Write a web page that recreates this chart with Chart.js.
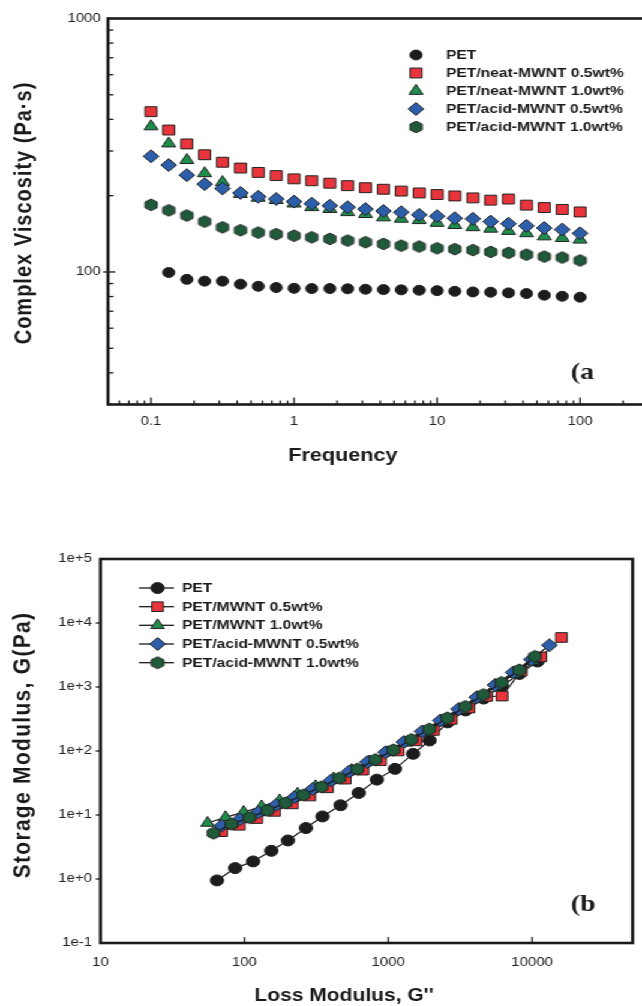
<!DOCTYPE html>
<html><head><meta charset="utf-8">
<script src="https://cdn.jsdelivr.net/npm/chart.js@4.4.1/dist/chart.umd.min.js"></script>
<style>
html,body{margin:0;padding:0;background:#fff;overflow:hidden;width:642px;height:1006px;}
#stage{position:absolute;left:0;top:0;width:535px;height:1006px;transform:scaleX(1.2);transform-origin:0 0;}
#c1{position:absolute;left:0;top:0;}
#c2{position:absolute;left:0;top:480px;}
</style></head><body>
<div id="stage"><canvas id="c1" width="600" height="480"></canvas><canvas id="c2" width="535" height="526"></canvas></div>
<script>
// ---------- Panel (a): complex viscosity vs frequency ----------
const frequency = [0.1, 0.133, 0.178, 0.237, 0.316, 0.422, 0.562, 0.75, 1, 1.33, 1.78, 2.37, 3.16, 4.22, 5.62, 7.5, 10, 13.3, 17.8, 23.7, 31.6, 42.2, 56.2, 75, 100];
const viscPET    = [null, 99.5, 93.5, 92, 92, 89.5, 87.8, 86.8, 86.2, 86, 86, 85.8, 85.5, 85.2, 85, 84.7, 84.4, 83.9, 83.4, 83.2, 82.7, 82.2, 81, 80.2, 79.5];
const viscNeat05 = [429, 363, 320, 290, 271, 257, 247, 240, 233, 229, 224, 219, 215, 212, 208.5, 205, 202, 199.5, 196, 192, 194, 183.5, 179.5, 176.5, 172.5];
const viscNeat10 = [375, 321, 276, 245, 226, 203, 196, 192, 186, 180, 177, 172, 169, 164, 162, 160, 156, 153, 150, 148, 145, 142, 138, 136, 134];
const viscAcid05 = [286, 264, 241, 222, 213.5, 205, 198, 194, 189.5, 186, 182.5, 180, 177, 174, 172, 168, 166, 163, 162, 158, 155, 152, 149, 147, 142];
const viscAcid10 = [184, 175, 167, 158, 150, 146, 143, 141, 139, 137, 135, 133, 131, 129, 127, 126, 124, 123, 122, 120, 119, 117, 115, 114, 111];
const namesA = ['PET', 'PET/neat-MWNT 0.5wt%', 'PET/neat-MWNT 1.0wt%', 'PET/acid-MWNT 0.5wt%', 'PET/acid-MWNT 1.0wt%'];
const freqTickLabels = [0.1, 1, 10, 100];
const viscTickLabels = [100, 1000];

// ---------- Panel (b): storage modulus vs loss modulus ----------
const lossPET    = [64.5, 86.3, 115, 154, 201, 268, 349, 466, 624, 834, 1114, 1490, 1938, 2590, 3450, 4600, 6130, 8180, 10900];
const storPET    = [0.95, 1.48, 1.88, 2.76, 4.0, 6.26, 9.5, 14.2, 22.1, 35.7, 52.6, 90.4, 146, 280, 430, 660, 1030, 1600, 2500];
const lossNeat05 = [69.5, 92, 122, 162, 215, 285, 378, 502, 666, 884, 1173, 1557, 2066, 2742, 3640, 4830, 6190, 8400, 11500, 16000];
const storNeat05 = [5.5, 6.9, 8.8, 11.4, 14.9, 19.8, 26.6, 36.3, 50.2, 70.4, 100, 144, 210, 312, 468, 712, 721, 1780, 2950, 5940];
const lossNeat10 = [55.5, 74, 98.8, 131.8, 175.8, 234.5, 312.8, 417.3, 556.7, 742.6, 990.6, 1321, 1763, 2352, 3137, 4185, 5583, 7448, 9935];
const storNeat10 = [7.5, 9.2, 11.1, 13.6, 16.9, 21.4, 28.0, 37.2, 50.2, 68.6, 95, 134, 195, 289, 433, 660, 1020, 1597, 2537];
const lossAcid05 = [69.5, 93, 124.5, 166.7, 223, 298.7, 400, 535, 716, 959, 1284, 1718, 2300, 3080, 4122, 5518, 7387, 9889, 13200];
const storAcid05 = [6.8, 8.6, 11.0, 14.4, 19.0, 25.5, 34.7, 48, 67.2, 95.6, 138, 202, 300, 452, 691, 1072, 1690, 2693, 4500];
const lossAcid10 = [61, 81.4, 108.5, 144.8, 193, 257.5, 343.5, 458, 611, 815, 1087, 1450, 1934, 2580, 3441, 4590, 6122, 8166, 10470];
const storAcid10 = [5.2, 7.2, 9.1, 11.8, 15.4, 20.5, 27.5, 37.7, 52.1, 73.3, 104, 151, 220, 329, 496, 759, 1175, 1845, 3000];
const namesB = ['PET', 'PET/MWNT 0.5wt%', 'PET/MWNT 1.0wt%', 'PET/acid-MWNT 0.5wt%', 'PET/acid-MWNT 1.0wt%'];
const lossTickLabels = [10, 100, 1000, 10000];
const storTickLabels = [0.1, 1, 10, 100, 1000, 10000, 100000];

// ---------- styling ----------
const C_BLACK = '#1c1c1c', C_RED = '#e8343a', C_GREEN = '#1e8c4b', C_BLUE = '#2d5ea9', C_DKGREEN = '#1f5a3b', C_EDGE = '#222222';
const SANS = '"Liberation Sans", Arial, Helvetica, sans-serif';
const SERIF = '"Liberation Serif", "Times New Roman", serif';

function hexCanvas(r, fill, stroke) {
  const s = Math.ceil(2 * r + 4);
  const c = document.createElement('canvas');
  c.width = s; c.height = s;
  const g = c.getContext('2d');
  g.beginPath();
  for (let i = 0; i < 6; i++) {
    const a = -Math.PI / 2 + i * Math.PI / 3;
    const px = s / 2 + r * Math.cos(a), py = s / 2 + r * Math.sin(a);
    if (i === 0) g.moveTo(px, py); else g.lineTo(px, py);
  }
  g.closePath();
  g.fillStyle = fill; g.fill();
  g.lineWidth = 1; g.strokeStyle = stroke; g.stroke();
  return c;
}

function drawMarker(ctx, style, x, y, r, fill, stroke) {
  if (style instanceof HTMLCanvasElement) { ctx.drawImage(style, x - style.width / 2, y - style.height / 2); return; }
  ctx.beginPath();
  if (style === 'circle') ctx.arc(x, y, r, 0, Math.PI * 2);
  else if (style === 'rect') { const s = Math.SQRT1_2 * r; ctx.rect(x - s, y - s, 2 * s, 2 * s); }
  else if (style === 'triangle') {
    ctx.moveTo(x, y - r);
    ctx.lineTo(x + r * Math.sin(2 * Math.PI / 3), y - r * Math.cos(2 * Math.PI / 3));
    ctx.lineTo(x + r * Math.sin(4 * Math.PI / 3), y - r * Math.cos(4 * Math.PI / 3));
    ctx.closePath();
  } else if (style === 'rectRot') { ctx.moveTo(x - r, y); ctx.lineTo(x, y - r); ctx.lineTo(x + r, y); ctx.lineTo(x, y + r); ctx.closePath(); }
  ctx.fillStyle = fill; ctx.fill();
  ctx.lineWidth = 1; ctx.strokeStyle = stroke; ctx.stroke();
}

const stylesA = [
  { style: 'circle', r: 5, fill: C_BLACK },
  { style: 'rect', r: 7, fill: C_RED },
  { style: 'triangle', r: 6.7, fill: C_GREEN },
  { style: 'rectRot', r: 6.5, fill: C_BLUE },
  { style: hexCanvas(5.8, C_DKGREEN, C_EDGE), r: 5.8, fill: C_DKGREEN }
];
const stylesB = [
  { style: 'circle', r: 5.5, fill: C_BLACK },
  { style: 'rect', r: 6.8, fill: C_RED },
  { style: 'triangle', r: 6.5, fill: C_GREEN },
  { style: 'rectRot', r: 6.5, fill: C_BLUE },
  { style: hexCanvas(6, C_DKGREEN, C_EDGE), r: 6, fill: C_DKGREEN }
];

function minorTicks(lo, hi) {
  const out = [];
  for (let k = -3; k <= 6; k++) for (let m = 2; m <= 9; m++) {
    const v = m * Math.pow(10, k);
    if (v > lo * 1.0001 && v < hi * 0.9999) out.push(v);
  }
  return out;
}
function fmtExp(v) {
  const e = Math.round(Math.log10(v));
  return '1e' + (e < 0 ? '-' : '+') + Math.abs(e);
}

const decor = {
  c1: {
    xMajor: freqTickLabels, xMajorLen: 7, xMinor: minorTicks(0.05, 500), xMinorLen: 4,
    yMajor: [100], yMajorIn: 6, yMajorOut: 4, yMinor: minorTicks(30, 1000), yMinorLen: 4.5,
    xTitle: { text: 'Frequency', x: 285.8, y: 461, font: 'bold 18px ' + SANS },
    yTitle: { text: 'Complex Viscosity (Pa·s)', x: 20.4, y: 213, font: 'bold 20px ' + SANS, spacing: '1px' },
    panel: { text: '(a', x: 475.8, y: 379, font: 'bold 23px ' + SERIF },
    legend: { mx: 346.7, tx: 371.7, rows: [55, 73, 91, 109, 127], line: null, names: namesA, styles: stylesA }
  },
  c2: {
    xMajor: [100, 1000, 10000], xMajorLen: 6, xMinor: [], xMinorLen: 0,
    yMajor: [1, 10, 100, 1000, 10000], yMajorIn: 0, yMajorOut: 4, yMinor: [], yMinorLen: 0,
    xTitle: { text: "Loss Modulus, G''", x: 286.7, y: 521, font: 'bold 17.5px ' + SANS },
    yTitle: { text: 'Storage Modulus, G(Pa)', x: 18.75, y: 265, font: 'bold 21px ' + SANS, spacing: '1.3px' },
    panel: { text: '(b', x: 475.8, y: 431, font: 'bold 23px ' + SERIF },
    legend: { mx: 131.3, tx: 151.7, rows: [108, 126.7, 145.3, 164, 182.7], line: [115.8, 145], names: namesB, styles: stylesB }
  }
};

const decorPlugin = {
  id: 'decor',
  afterDraw(chart) {
    const d = decor[chart.canvas.id];
    if (!d) return;
    const ctx = chart.ctx, a = chart.chartArea, xs = chart.scales.x, ys = chart.scales.y;
    ctx.save();
    ctx.strokeStyle = '#1a1a1a';
    ctx.lineWidth = 1.3;
    const seg = (x0, y0, x1, y1) => { ctx.beginPath(); ctx.moveTo(x0, y0); ctx.lineTo(x1, y1); ctx.stroke(); };
    d.xMinor.forEach(v => { const p = xs.getPixelForValue(v); seg(p, a.bottom, p, a.bottom - d.xMinorLen); });
    d.xMajor.forEach(v => { const p = xs.getPixelForValue(v); seg(p, a.bottom, p, a.bottom - d.xMajorLen); });
    d.yMinor.forEach(v => { const p = ys.getPixelForValue(v); seg(a.left, p, a.left + d.yMinorLen, p); });
    d.yMajor.forEach(v => { const p = ys.getPixelForValue(v); seg(a.left - d.yMajorOut, p, a.left + d.yMajorIn, p); });
    ctx.lineWidth = 2.6;
    ctx.strokeRect(a.left, a.top, a.right - a.left, a.bottom - a.top);
    const L = d.legend;
    ctx.font = 'bold 13px ' + SANS;
    ctx.textBaseline = 'middle'; ctx.textAlign = 'left';
    L.names.forEach((name, i) => {
      const y = L.rows[i], st = L.styles[i];
      if (L.line) { ctx.lineWidth = 1.3; ctx.strokeStyle = '#1a1a1a'; seg(L.line[0], y, L.line[1], y); }
      drawMarker(ctx, st.style, L.mx, y, st.r, st.fill, C_EDGE);
      ctx.fillStyle = '#1a1a1a';
      ctx.fillText(name, L.tx, y + 0.5);
    });
    ctx.fillStyle = '#1a1a1a';
    ctx.font = d.xTitle.font; ctx.textAlign = 'center'; ctx.textBaseline = 'alphabetic';
    ctx.fillText(d.xTitle.text, d.xTitle.x, d.xTitle.y);
    ctx.save();
    ctx.translate(d.yTitle.x, d.yTitle.y); ctx.rotate(-Math.PI / 2);
    ctx.font = d.yTitle.font; ctx.textAlign = 'center'; ctx.textBaseline = 'middle';
    try { ctx.letterSpacing = d.yTitle.spacing; } catch (e) {}
    ctx.fillText(d.yTitle.text, 0, 0);
    ctx.restore();
    ctx.font = d.panel.font; ctx.textAlign = 'left'; ctx.textBaseline = 'alphabetic';
    ctx.fillText(d.panel.text, d.panel.x, d.panel.y);
    ctx.restore();
  }
};

function logAxis(min, max, labelVals, fmt, fixFn, pad) {
  return {
    type: 'logarithmic', min, max, bounds: 'data',
    afterBuildTicks: s => { s.ticks = labelVals.map(v => ({ value: v })); },
    afterFit: fixFn,
    ticks: { callback: v => fmt(v), font: { family: SANS, size: 12.5 }, color: '#222', padding: pad, autoSkip: false, maxRotation: 0, minRotation: 0 },
    grid: { display: false, drawTicks: false },
    border: { display: false }
  };
}

function pts(xs, ys) { return xs.map((x, i) => ({ x, y: ys[i] })).filter(p => p.y != null); }

function makeDatasets(names, series, styles, line) {
  return series.map((data, i) => ({
    label: names[i], data,
    pointStyle: styles[i].style, pointRadius: styles[i].r, pointHoverRadius: styles[i].r,
    pointBackgroundColor: styles[i].fill, pointBorderColor: C_EDGE, pointBorderWidth: 1,
    showLine: line, borderColor: '#1a1a1a', borderWidth: 1.2, tension: 0, fill: false,
    order: names.length - i
  }));
}

const common = { responsive: false, animation: false, events: [], plugins: { legend: { display: false }, tooltip: { enabled: false } } };

new Chart(document.getElementById('c1'), {
  type: 'scatter',
  data: { datasets: makeDatasets(namesA, [
    pts(frequency, viscPET), pts(frequency, viscNeat05), pts(frequency, viscNeat10), pts(frequency, viscAcid05), pts(frequency, viscAcid10)
  ], stylesA, false) },
  options: Object.assign({}, common, {
    layout: { padding: { left: 0, top: 18.5, right: 33.3, bottom: 0 } },
    scales: {
      x: logAxis(0.05, 500, freqTickLabels, v => String(v), s => { s.height = 480 - 404.5; }, 10),
      y: logAxis(30, 1000, viscTickLabels, v => String(v), s => { s.width = 90; }, 6)
    }
  }),
  plugins: [decorPlugin]
});

new Chart(document.getElementById('c2'), {
  type: 'scatter',
  data: { datasets: makeDatasets(namesB, [
    pts(lossPET, storPET), pts(lossNeat05, storNeat05), pts(lossNeat10, storNeat10), pts(lossAcid05, storAcid05), pts(lossAcid10, storAcid10)
  ], stylesB, true) },
  options: Object.assign({}, common, {
    layout: { padding: { left: 0, top: 79, right: 535 - 530.8, bottom: 0 } },
    scales: {
      x: logAxis(10, 50000, lossTickLabels, v => String(v), s => { s.height = 526 - 463; }, 12),
      y: logAxis(0.1, 100000, storTickLabels, fmtExp, s => { s.width = 83.75; }, 7)
    }
  }),
  plugins: [decorPlugin]
});
</script>
</body></html>
